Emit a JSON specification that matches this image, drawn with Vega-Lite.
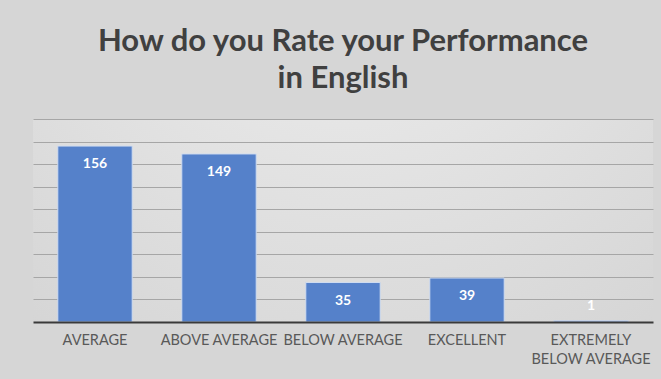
{
  "$schema": "https://vega.github.io/schema/vega-lite/v6.json",
  "autosize": {"type": "none"},
  "width": 620,
  "height": 203,
  "padding": {"left": 33, "top": 119, "right": 8, "bottom": 57},
  "background": "#d6d6d6",
  "view": {"stroke": null, "fill": {"gradient": "radial", "x1": 0.5, "y1": 0.0, "r1": 0, "x2": 0.5, "y2": 0.0, "r2": 1.1, "stops": [{"offset": 0, "color": "#f0f0f0"}, {"offset": 1, "color": "#cdcdcd"}]}},
  "title": {
    "text": ["How do you Rate your Performance", "in English"],
    "font": "Lato",
    "fontSize": 31,
    "fontWeight": "bold",
    "color": "#404040",
    "lineHeight": 37,
    "anchor": "middle",
    "offset": 24
  },
  "data": {
    "values": [
      {"rating": "AVERAGE", "count": 156},
      {"rating": "ABOVE AVERAGE", "count": 149},
      {"rating": "BELOW AVERAGE", "count": 35},
      {"rating": "EXCELLENT", "count": 39},
      {"rating": "EXTREMELY BELOW AVERAGE", "count": 1}
    ]
  },
  "encoding": {
    "x": {
      "field": "rating",
      "type": "nominal",
      "sort": null,
      "scale": {"paddingInner": 0.4, "paddingOuter": 0.2},
      "axis": {
        "title": null,
        "labelAngle": 0,
        "labelFont": "Lato",
        "labelFontSize": 14.5,
        "labelColor": "#595959",
        "labelPadding": 11,
        "labelLineHeight": 19,
        "labelBaseline": "top",
        "labelExpr": "datum.label == 'EXTREMELY BELOW AVERAGE' ? ['EXTREMELY', 'BELOW AVERAGE'] : datum.label",
        "ticks": false,
        "domainColor": "#3a3a3a",
        "domainWidth": 2,
        "grid": false,
        "zindex": 2
      }
    },
    "y": {
      "field": "count",
      "type": "quantitative",
      "scale": {"domain": [0, 180], "nice": false},
      "axis": {
        "title": null,
        "labels": false,
        "ticks": false,
        "domain": false,
        "values": [20, 40, 60, 80, 100, 120, 140, 160, 180],
        "gridColor": "#a6a6a6",
        "gridWidth": 1.2
      }
    }
  },
  "layer": [
    {
      "mark": {"type": "bar", "color": "#5581ca", "stroke": "#d0dcf0", "strokeWidth": 1}
    },
    {
      "transform": [{"calculate": "max(datum.count, 30)", "as": "labelPos"}],
      "mark": {"type": "text", "color": "white", "font": "Lato", "fontWeight": "bold", "fontSize": 14, "baseline": "middle", "dy": 18},
      "encoding": {
        "y": {"field": "labelPos", "type": "quantitative"},
        "text": {"field": "count", "type": "quantitative"}
      }
    }
  ]
}
